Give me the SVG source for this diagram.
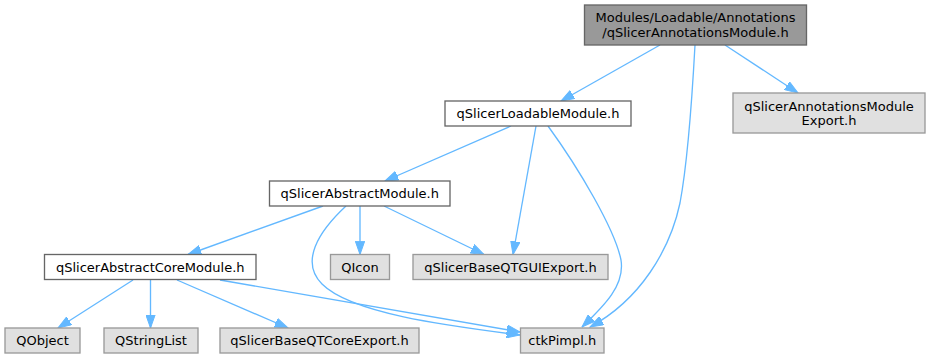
<svg xmlns="http://www.w3.org/2000/svg" width="931" height="359" viewBox="0 0 931 359">
  <style>
    .node rect { stroke-width: 1.33; }
    .main rect { fill: #999999; stroke: #666666; }
    .local rect { fill: #ffffff; stroke: #666666; }
    .ext rect { fill: #e0e0e0; stroke: #999999; }
    text { font-family: "DejaVu Sans", "Liberation Sans", sans-serif; font-size: 13px; fill: #000000; text-anchor: middle; }
    .edge { fill: none; stroke: #63b8ff; stroke-width: 1.33; marker-end: url(#arrow); }
  </style>
  <defs>
    <marker id="arrow" markerUnits="userSpaceOnUse" markerWidth="14" markerHeight="10" viewBox="0 -5 14 10" refX="13.3" refY="0" orient="auto">
      <path d="M0,-4.7 L13.3,0 L0,4.7 Z" fill="#63b8ff" stroke="#63b8ff" stroke-width="1"/>
    </marker>
  </defs>

  <rect width="931" height="359" fill="#ffffff"/>

  <!-- include edges -->
  <g id="edges">
    <path class="edge" d="M660,45 L561,101"/>
    <path class="edge" d="M725,45 L798,93"/>
    <path class="edge" d="M695,45 C692,100 688,160 680,203 C670,250 640,300 590,327"/>
    <path class="edge" d="M511,126 L385,181"/>
    <path class="edge" d="M536,126 L513,254.5"/>
    <path class="edge" d="M548,126 C580,170 615,230 621,260 C625,285 605,305 582,327"/>
    <path class="edge" d="M323,206 L188,254.5"/>
    <path class="edge" d="M360,206 L360,254.5"/>
    <path class="edge" d="M384,206 L484,254.5"/>
    <path class="edge" d="M346,206 C318,232 300,262 322,284 C352,314 450,326 520,335"/>
    <path class="edge" d="M220,280 L520,332"/>
    <path class="edge" d="M133,280 L58,328"/>
    <path class="edge" d="M150.5,280 L150.5,328"/>
    <path class="edge" d="M177,280 L288,328"/>
  </g>

  <!-- header nodes -->
  <g id="node-root" class="node main">
    <rect x="584.5" y="5" width="222" height="40"/>
    <text x="695.5" y="22">Modules/Loadable/Annotations</text>
    <text x="695.5" y="36.5">/qSlicerAnnotationsModule.h</text>
  </g>
  <g id="node-loadable" class="node local">
    <rect x="445" y="101" width="186" height="25"/>
    <text x="538" y="118">qSlicerLoadableModule.h</text>
  </g>
  <g id="node-export" class="node ext">
    <rect x="733" y="93" width="192" height="40"/>
    <text x="829" y="110.5">qSlicerAnnotationsModule</text>
    <text x="829" y="124.5">Export.h</text>
  </g>
  <g id="node-abstract" class="node local">
    <rect x="269.5" y="181" width="180.5" height="25"/>
    <text x="359.75" y="198">qSlicerAbstractModule.h</text>
  </g>
  <g id="node-core" class="node local">
    <rect x="44.5" y="254.5" width="211.5" height="25"/>
    <text x="150.25" y="271.5">qSlicerAbstractCoreModule.h</text>
  </g>
  <g id="node-qicon" class="node ext">
    <rect x="330.5" y="254.5" width="59" height="25"/>
    <text x="360" y="271.5">QIcon</text>
  </g>
  <g id="node-guiexport" class="node ext">
    <rect x="413" y="254.5" width="195" height="25"/>
    <text x="510.5" y="271.5">qSlicerBaseQTGUIExport.h</text>
  </g>
  <g id="node-qobject" class="node ext">
    <rect x="5" y="328" width="75" height="25"/>
    <text x="42.5" y="345">QObject</text>
  </g>
  <g id="node-qstringlist" class="node ext">
    <rect x="104" y="328" width="94" height="25"/>
    <text x="151" y="345">QStringList</text>
  </g>
  <g id="node-coreexport" class="node ext">
    <rect x="220" y="328" width="199" height="25"/>
    <text x="319.5" y="345">qSlicerBaseQTCoreExport.h</text>
  </g>
  <g id="node-ctkpimpl" class="node ext">
    <rect x="520.5" y="328" width="83.5" height="25"/>
    <text x="562.25" y="345">ctkPimpl.h</text>
  </g>
</svg>
